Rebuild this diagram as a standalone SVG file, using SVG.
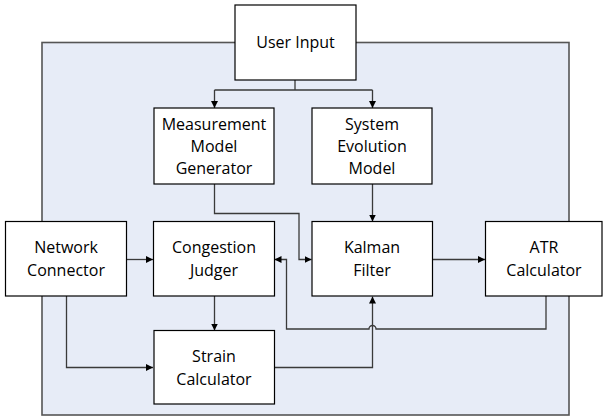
<svg xmlns="http://www.w3.org/2000/svg" width="603" height="416" viewBox="0 0 603 416">
<defs>
<marker id="arr" viewBox="0 0 10 10" refX="10" refY="5" markerWidth="7" markerHeight="7" markerUnits="userSpaceOnUse" orient="auto">
<path d="M0,0 L10,5 L0,10 z" fill="#000"/>
</marker>
<style>
.box{fill:#fff;stroke:#000;stroke-width:1.2}
.t{font-family:"Open Sans","Liberation Sans",sans-serif;font-size:16px;fill:#000;text-anchor:middle}
.c{fill:none;stroke:#3a3a3a;stroke-width:1.3}
</style>
</defs>
<rect x="42" y="42.5" width="527" height="372.5" fill="#E7ECF7" stroke="#555" stroke-width="1.6"/>
<g id="connectors">
<path class="c" d="M295,80 V90 M214.5,90 H372.5"/>
<path class="c" d="M214.5,90 V108" marker-end="url(#arr)"/>
<path class="c" d="M372.5,90 V108" marker-end="url(#arr)"/>
<path class="c" d="M214.5,184 V213.5 H299 V259.5 H311.5" marker-end="url(#arr)"/>
<path class="c" d="M372.5,184 V221.5" marker-end="url(#arr)"/>
<path class="c" d="M432.5,259.5 H485" marker-end="url(#arr)"/>
<path class="c" d="M126.5,259.5 H153" marker-end="url(#arr)"/>
<path class="c" d="M214.5,296 V330.5" marker-end="url(#arr)"/>
<path class="c" d="M66.5,296 V367.5 H153" marker-end="url(#arr)"/>
<path class="c" d="M274.5,367.5 H372.5 V296.5" marker-end="url(#arr)"/>
<path class="c" d="M546,296 V329 H376 A3.5,3.5 0 0 0 369,329 H286.5 V259.5 H274.5" marker-end="url(#arr)"/>
</g>
<g id="user-input">
<rect class="box" x="235" y="5" width="121" height="75"/>
<text class="t" x="295.5" y="48">User Input</text>
</g>
<g id="measurement-model-generator">
<rect class="box" x="154" y="108" width="120" height="76"/>
<text class="t" x="214" y="130">Measurement</text>
<text class="t" x="214" y="152">Model</text>
<text class="t" x="214" y="174">Generator</text>
</g>
<g id="system-evolution-model">
<rect class="box" x="312" y="108" width="120" height="76"/>
<text class="t" x="372" y="130">System</text>
<text class="t" x="372" y="152">Evolution</text>
<text class="t" x="372" y="174">Model</text>
</g>
<g id="network-connector">
<rect class="box" x="5.5" y="221.5" width="121" height="74.5"/>
<text class="t" x="66" y="253">Network</text>
<text class="t" x="66" y="275.5">Connector</text>
</g>
<g id="congestion-judger">
<rect class="box" x="153.5" y="221.5" width="121" height="74.5"/>
<text class="t" x="214" y="253">Congestion</text>
<text class="t" x="214" y="275.5">Judger</text>
</g>
<g id="kalman-filter">
<rect class="box" x="312" y="221.5" width="120.5" height="74.5"/>
<text class="t" x="372" y="253">Kalman</text>
<text class="t" x="372" y="275.5">Filter</text>
</g>
<g id="atr-calculator">
<rect class="box" x="485.5" y="221.5" width="116.5" height="74.5"/>
<text class="t" x="544" y="253">ATR</text>
<text class="t" x="544" y="275.5">Calculator</text>
</g>
<g id="strain-calculator">
<rect class="box" x="154" y="330.5" width="120.5" height="73.5"/>
<text class="t" x="214" y="362">Strain</text>
<text class="t" x="214" y="384.5">Calculator</text>
</g>
</svg>
